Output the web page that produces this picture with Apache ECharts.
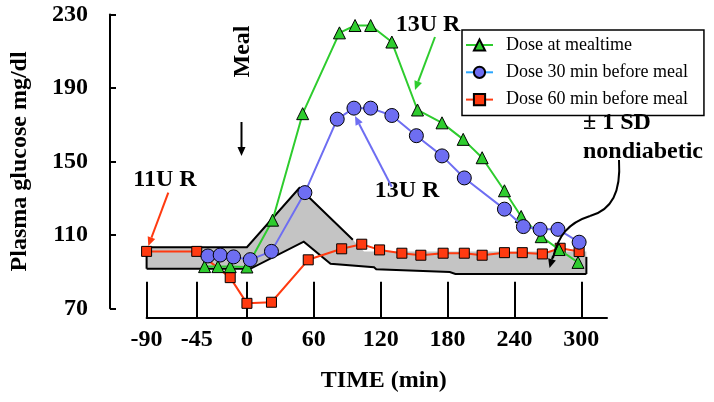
<!DOCTYPE html>
<html><head><meta charset="utf-8">
<script src="https://cdn.jsdelivr.net/npm/echarts@6/dist/echarts.min.js"></script>
<style>html,body{margin:0;padding:0;background:#fff}#c{width:714px;height:402px}</style>
</head><body><div id="c"></div>
<script>
// ---- data ----
const xTickValues = [-90, -45, 0, 60, 120, 180, 240, 300];
const yTickValues = [70, 110, 150, 190, 230];

const seriesNames = ['Dose at mealtime', 'Dose 30 min before meal', 'Dose 60 min before meal'];

const mealtimeX = [-38, -26, -15, 0, 23, 50, 83, 97, 111, 130, 153, 175, 194, 211, 231, 246, 264, 280, 297];
const mealtimeY = [92.7, 92.7, 92.7, 92.5, 118, 176, 220, 224, 224, 215, 178, 171, 162, 152, 134, 120, 109, 102, 95];

const before30X = [-35, -24, -12, 3, 22, 52, 81, 96, 111, 130, 152, 175, 195, 231, 248, 263, 279, 298];
const before30Y = [98.5, 99, 98, 96.5, 101, 133, 173, 179, 179, 175, 164, 153, 141, 124, 114.5, 113, 113, 106];

const before60X = [-90, -45, -15, 0, 22, 55, 85, 103, 119, 139, 156, 176, 195, 211, 231, 247, 265, 281, 298];
const before60Y = [101, 101, 86.7, 72.7, 73.3, 96.4, 102.4, 104.9, 101.8, 100, 98.9, 100, 100, 98.9, 100.3, 100.3, 99.6, 102.7, 100.9];

// +/- 1 SD nondiabetic band edges [time, glucose]
const bandUpper = [[-90, 103.3], [0, 103.3], [47, 135.5], [95, 107.3], [105, 101], [304.5, 101]];
const bandLower = [[-90, 91.5], [3, 91.5], [51, 106.3], [75, 94.3], [114, 92.4], [116, 91.3], [182, 89.8], [187, 88.7], [304.5, 88.7]];

// ---- helpers ----
const zip = (xs, ys) => xs.map((x, i) => [x, ys[i]]);
const FONT = 'Liberation Serif';

function arrow(x1, y1, x2, y2, color, w) {
  const a = Math.atan2(y2 - y1, x2 - x1), L = 9, W = 4;
  const bx = x2 - L * Math.cos(a), by = y2 - L * Math.sin(a);
  const px = -Math.sin(a) * W, py = Math.cos(a) * W;
  return [
    { type: 'line', shape: { x1: x1, y1: y1, x2: bx, y2: by }, style: { stroke: color, lineWidth: w }, z: 100 },
    { type: 'polygon', shape: { points: [[x2, y2], [bx + px, by + py], [bx - px, by - py]] }, style: { fill: color }, z: 100 }
  ];
}
function label(text, x, y, opts) {
  return Object.assign({
    type: 'text', x: x, y: y, z: 100,
    style: Object.assign({ text: text, font: 'bold 24px "' + FONT + '"', fill: '#000', align: 'center', verticalAlign: 'middle' }, opts || {})
  });
}

const GREEN = '#2ecc2e', BLUE = '#6e6ef2', RED = '#ff3a10';

const chart = echarts.init(document.getElementById('c'), null, { renderer: 'canvas' });

const option = {
  animation: false,
  backgroundColor: '#fff',
  grid: { left: 143.6, right: 107, top: 14.5, bottom: 93.7, containLabel: false },
  legend: {
    left: 462, top: 30, orient: 'vertical',
    padding: [6, 16, 7, 3],
    itemWidth: 27, itemHeight: 14, itemGap: 9.3,
    borderColor: '#000', borderWidth: 1.5, backgroundColor: '#fff',
    textStyle: { fontFamily: FONT, fontSize: 18, color: '#000', padding: [0, 0, 0, 8] },
    data: [
      { name: seriesNames[0] },
      { name: seriesNames[1], lineStyle: { color: '#2aa6ff' } },
      { name: seriesNames[2] }
    ]
  },
  xAxis: {
    type: 'value', min: -90, max: 323, offset: 9.4,
    splitLine: { show: false },
    axisLine: { show: true, onZero: false, lineStyle: { color: '#000', width: 2 } },
    axisTick: { show: true, inside: true, length: 36, customValues: xTickValues, lineStyle: { color: '#000', width: 2 } },
    axisLabel: { customValues: xTickValues, fontFamily: FONT, fontSize: 24, fontWeight: 'bold', color: '#000', margin: 10 },
    name: 'TIME (min)', nameLocation: 'middle', nameGap: 51,
    nameTextStyle: { fontFamily: FONT, fontSize: 24, fontWeight: 'bold', color: '#000', padding: [0, 0, 0, 14] }
  },
  yAxis: {
    type: 'value', min: 70, max: 230, interval: 40, offset: 36.6,
    splitLine: { show: false },
    axisLine: { show: true, onZero: false, lineStyle: { color: '#000', width: 2 } },
    axisTick: { show: true, inside: true, length: 6, lineStyle: { color: '#000', width: 2 } },
    axisLabel: { fontFamily: FONT, fontSize: 24, fontWeight: 'bold', color: '#000', margin: 22 },
    name: 'Plasma glucose mg/dl', nameLocation: 'middle', nameRotate: 90, nameGap: 78,
    nameTextStyle: { fontFamily: FONT, fontSize: 24, fontWeight: 'bold', color: '#000' }
  },
  series: [
    {
      type: 'custom', name: 'band', silent: true, z: 1,
      data: [[0, 0]],
      renderItem: function (params, api) {
        const up = bandUpper.map(p => api.coord(p));
        const lo = bandLower.map(p => api.coord(p));
        const poly = up.concat(lo.slice().reverse());
        const upEdge = [lo[0]].concat(up.slice(0, 4));
        const loEdge = lo.slice();
        const rightEdge = [lo[lo.length - 1], api.coord([304.5, 98])];
        return {
          type: 'group', children: [
            { type: 'polygon', shape: { points: poly }, style: { fill: '#c4c4c4' } },
            { type: 'polyline', shape: { points: upEdge }, style: { stroke: '#000', lineWidth: 2, fill: null } },
            { type: 'polyline', shape: { points: loEdge }, style: { stroke: '#000', lineWidth: 2, fill: null } },
            { type: 'polyline', shape: { points: rightEdge }, style: { stroke: '#000', lineWidth: 2, fill: null } }
          ]
        };
      }
    },
    {
      type: 'line', name: seriesNames[2], z: 3, data: zip(before60X, before60Y),
      symbol: 'rect', symbolSize: 10,
      lineStyle: { color: RED, width: 2 },
      itemStyle: { color: RED, borderColor: '#000', borderWidth: 1 }
    },
    {
      type: 'line', name: seriesNames[0], z: 4, data: zip(mealtimeX, mealtimeY),
      symbol: 'triangle', symbolSize: 12,
      lineStyle: { color: GREEN, width: 2 },
      itemStyle: { color: GREEN, borderColor: '#000', borderWidth: 1 }
    },
    {
      type: 'line', name: seriesNames[1], z: 5, data: zip(before30X, before30Y),
      symbol: 'circle', symbolSize: 14,
      lineStyle: { color: BLUE, width: 2 },
      itemStyle: { color: BLUE, borderColor: '#000', borderWidth: 1 }
    }
  ],
  graphic: [].concat(
    [label('Meal', 242.5, 51.5, {})].map(g => Object.assign(g, { rotation: Math.PI / 2 })),
    arrow(241.5, 122, 241.5, 156, '#000', 2),
    [label('11U R', 165, 180)],
    arrow(168.3, 192.7, 148.3, 246, RED, 2),
    [label('13U R', 428, 25)],
    arrow(435, 37, 415, 90, GREEN, 2),
    [label('13U R', 407, 191)],
    arrow(391.7, 186.7, 355, 116, BLUE, 2),
    [label('± 1 SD', 583, 123, { align: 'left' }), label('nondiabetic', 583, 152, { align: 'left' })],
    [{ type: 'bezierCurve', shape: { x1: 619, y1: 160, x2: 590, y2: 216, cpx1: 621, cpy1: 192, cpx2: 612, cpy2: 210 }, style: { stroke: '#000', lineWidth: 2, fill: null }, z: 100 },
     { type: 'bezierCurve', shape: { x1: 590, y1: 216, x2: 553, y2: 258, cpx1: 568, cpy1: 223, cpx2: 558, cpy2: 236 }, style: { stroke: '#000', lineWidth: 2, fill: null }, z: 100 }],
    arrow(553, 256, 549.5, 268, '#000', 2)
  )
};
chart.setOption(option);
</script>
</body></html>
